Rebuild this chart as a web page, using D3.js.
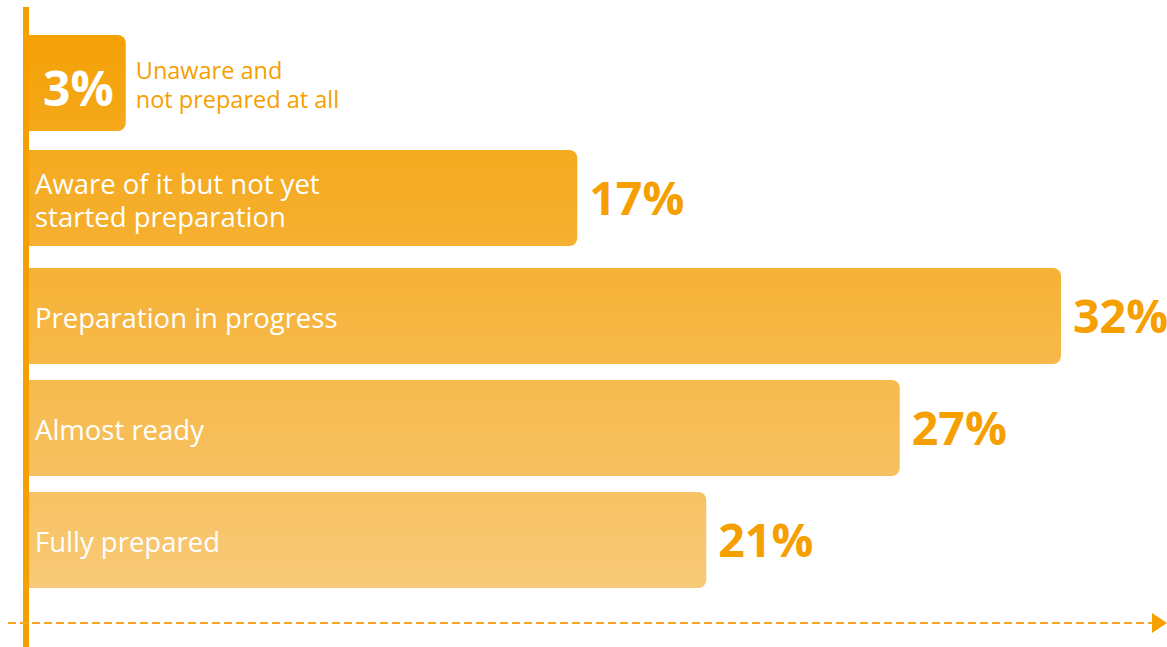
<!DOCTYPE html>
<html>
<head>
<meta charset="utf-8">
<script src="https://cdn.jsdelivr.net/npm/d3@7"></script>
<style>
  html, body { margin: 0; padding: 0; background: #fff; }
  svg { display: block; }
  text { font-family: "Open Sans", "Noto Sans", sans-serif; }
</style>
</head>
<body>
<svg id="chart" width="1167" height="647"></svg>
<script>
// Readiness stages and share of respondents (%)
const categories = [
  "Unaware and not prepared at all",
  "Aware of it but not yet started preparation",
  "Preparation in progress",
  "Almost ready",
  "Fully prepared"
];
const values = [3, 17, 32, 27, 21];
// Label lines for each bar
const labelLines = [
  ["Unaware and", "not prepared at all"],
  ["Aware of it but not yet", "started preparation"],
  ["Preparation in progress"],
  ["Almost ready"],
  ["Fully prepared"]
];

const W = 1167, H = 647;
const x0 = 29;
const svg = d3.select("#chart");

const x = d3.scaleLinear().domain([0, 32]).range([x0, x0 + 1032]);
const yTops = [35, 150, 268, 380, 492];
const bandH = 96;

// shared vertical gradient across all bars
const defs = svg.append("defs");
const grad = defs.append("linearGradient")
  .attr("id", "barGrad")
  .attr("gradientUnits", "userSpaceOnUse")
  .attr("x1", 0).attr("y1", 35).attr("x2", 0).attr("y2", 587);
grad.append("stop").attr("offset", "0%").attr("stop-color", "#F4A106");
grad.append("stop").attr("offset", "100%").attr("stop-color", "#F8C977");

const orange = "#F5A000";
const r = 8;

// bar path: square left edge, rounded right corners
function barPath(xl, xr, yt, h) {
  const p = d3.path();
  p.moveTo(xl, yt);
  p.lineTo(xr - r, yt);
  p.arcTo(xr, yt, xr, yt + r, r);
  p.lineTo(xr, yt + h - r);
  p.arcTo(xr, yt + h, xr - r, yt + h, r);
  p.lineTo(xl, yt + h);
  p.closePath();
  return p.toString();
}

const g = svg.append("g");
const bars = g.selectAll("g.bar")
  .data(values.map((v, i) => ({ v, i, cat: categories[i], lines: labelLines[i], y: yTops[i] })))
  .join("g").attr("class", "bar");

bars.append("path")
  .attr("d", d => barPath(x(0), x(d.v), d.y, bandH))
  .attr("fill", "url(#barGrad)");

// small first bar: value inside, label outside
const first = bars.filter(d => d.i === 0);
first.append("text")
  .attr("x", d => (x(0) + x(d.v)) / 2 + 1)
  .attr("y", d => d.y + bandH / 2 + 23)
  .attr("text-anchor", "middle")
  .attr("fill", "#fff")
  .attr("font-weight", 700)
  .attr("font-size", 48)
  .text(d => d.v + "%");
first.append("text")
  .attr("fill", orange)
  .attr("font-size", 23.5)
  .attr("font-weight", 500)
  .selectAll("tspan")
  .data(d => d.lines.map((l, k) => ({ l, k, d })))
  .join("tspan")
  .attr("x", d => x(d.d.v) + 10)
  .attr("y", d => d.d.y + 44 + d.k * 29)
  .text(d => d.l);

// remaining bars: label inside, value outside
const rest = bars.filter(d => d.i > 0);
rest.append("text")
  .attr("fill", "#fff")
  .attr("font-size", 27.5)
  .selectAll("tspan")
  .data(d => d.lines.map((l, k) => ({ l, k, d, n: d.lines.length })))
  .join("tspan")
  .attr("x", x(0) + 6)
  .attr("y", d => d.d.y + bandH / 2 + 12 + (d.k - (d.n - 1) / 2) * 33)
  .text(d => d.l);
rest.append("text")
  .attr("x", d => x(d.v) + 12)
  .attr("y", d => d.y + bandH / 2 + 17)
  .attr("fill", orange)
  .attr("font-weight", 700)
  .attr("font-size", 46.5)
  .text(d => d.v + "%");

// vertical axis
svg.append("line")
  .attr("x1", 26).attr("x2", 26)
  .attr("y1", 7).attr("y2", H)
  .attr("stroke", orange).attr("stroke-width", 6);

// dashed horizontal arrow
svg.append("line")
  .attr("x1", 8).attr("x2", 1153)
  .attr("y1", 623).attr("y2", 623)
  .attr("stroke", "#F6A624").attr("stroke-width", 2)
  .attr("stroke-dasharray", "8,4");
svg.append("path")
  .attr("d", "M1152,613 L1167,623 L1152,633 Z")
  .attr("fill", orange);
</script>
</body>
</html>
